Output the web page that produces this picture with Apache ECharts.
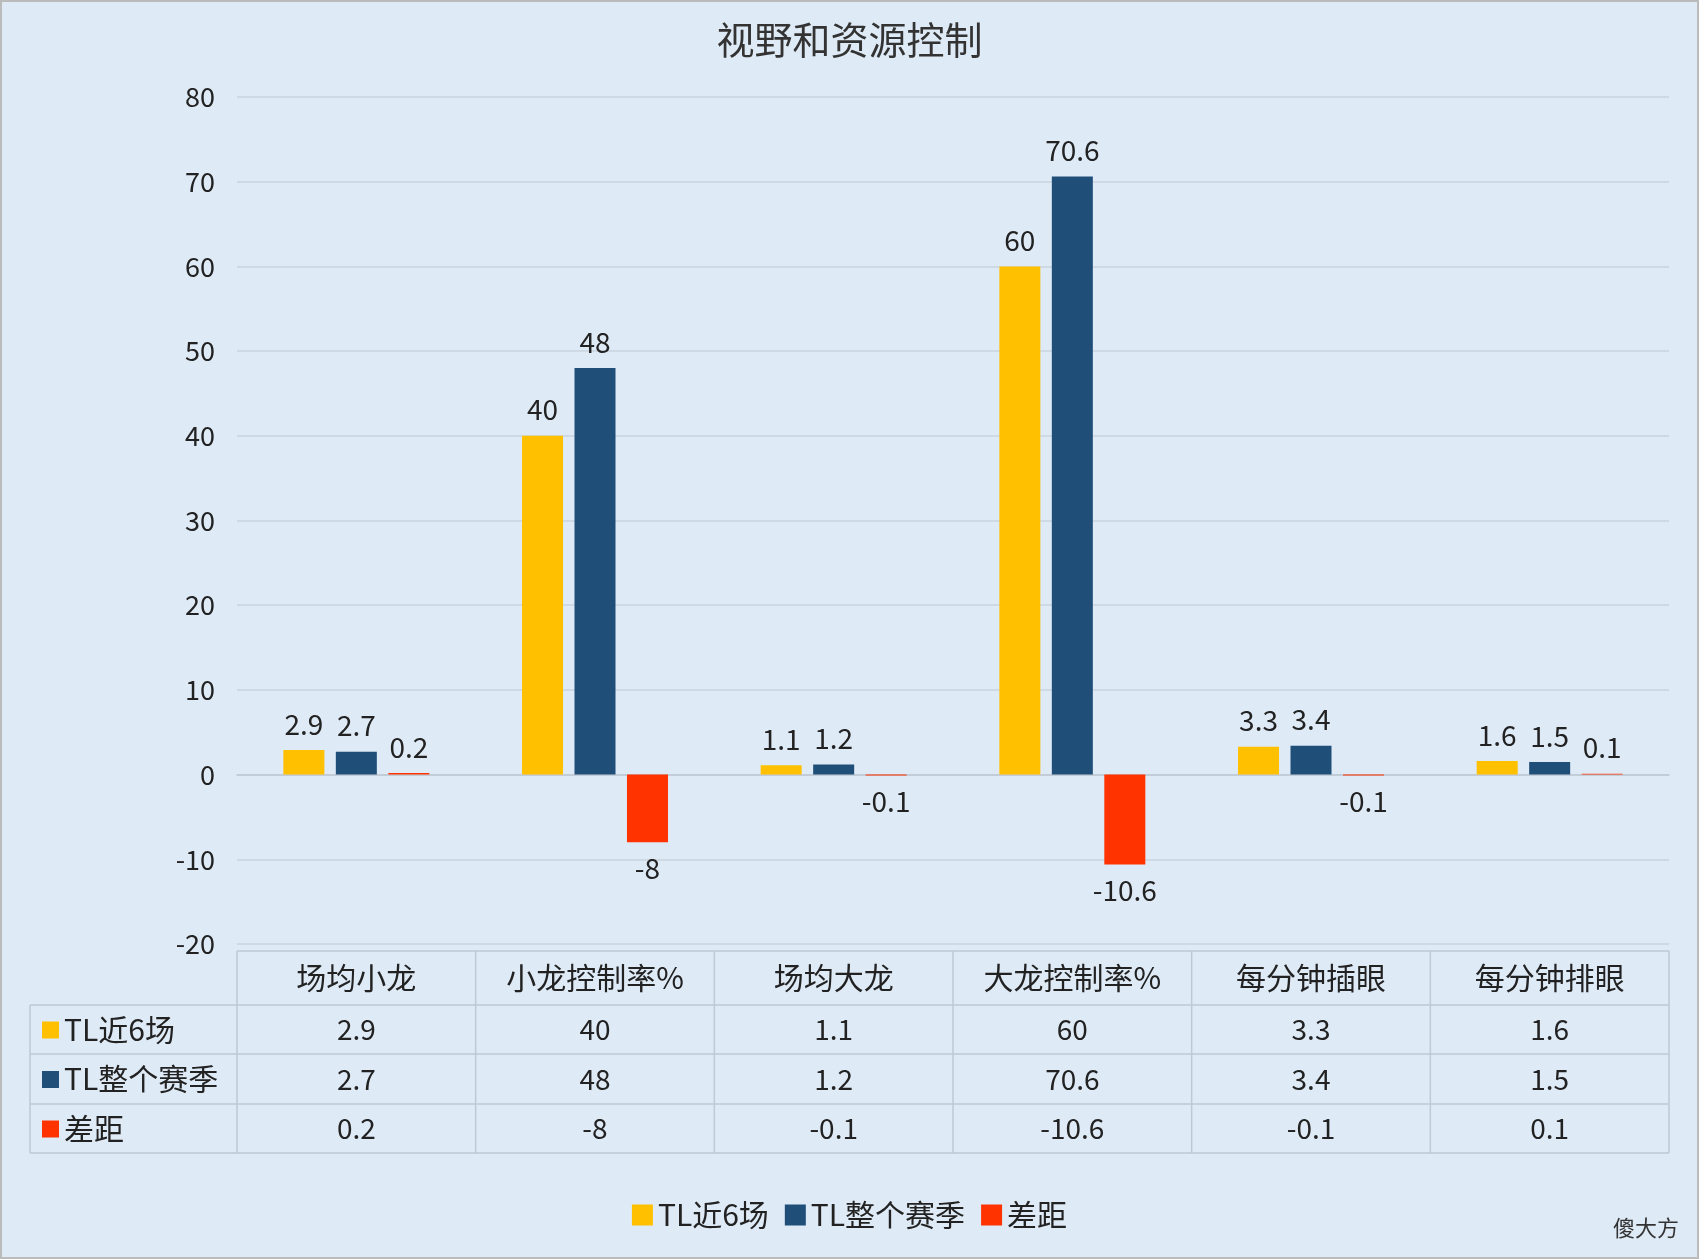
<!DOCTYPE html>
<html><head><meta charset="utf-8">
<script src="https://cdn.jsdelivr.net/npm/echarts@6/dist/echarts.min.js"></script>
<style>html,body{margin:0;padding:0;background:#DEEAF6}#c{width:1699px;height:1259px}</style>
</head><body><div id="c"></div>
<script>
const categories=['场均小龙','小龙控制率%','场均大龙','大龙控制率%','每分钟插眼','每分钟排眼'];
const seriesNames=['TL近6场','TL整个赛季','差距'];
const recent=[2.9,40,1.1,60,3.3,1.6];
const season=[2.7,48,1.2,70.6,3.4,1.5];
const diff=[0.2,-8,-0.1,-10.6,-0.1,0.1];
const colors=['#FFC000','#1F4E79','#FF3300'];
const yTicks={min:-20,max:80,interval:10};
const F='"Noto Sans CJK SC","Noto Sans",sans-serif';
const L=237,R=1669,T=97,B=944;
const rows=[951,1005,1054,1104,1153];
const tl=30;
const cw=(R-L)/categories.length;
const g=[];
const lc='#BFC9D3';
rows.forEach((y,i)=>g.push({type:'line',shape:{x1:i===0?L:tl,y1:y,x2:R,y2:y},style:{stroke:lc,lineWidth:1.5}}));
for(let i=0;i<=categories.length;i++)g.push({type:'line',shape:{x1:L+i*cw,y1:rows[0],x2:L+i*cw,y2:rows[4]},style:{stroke:lc,lineWidth:1.5}});
g.push({type:'line',shape:{x1:tl,y1:rows[1],x2:tl,y2:rows[4]},style:{stroke:lc,lineWidth:1.5}});
categories.forEach((c,i)=>g.push({type:'text',x:L+(i+0.5)*cw,y:(rows[0]+rows[1])/2,style:{text:c,font:'30px '+F,fill:'#222',align:'center',verticalAlign:'middle'}}));
const data=[recent,season,diff];
data.forEach((arr,r)=>{
 const y=(rows[r+1]+rows[r+2])/2;
 g.push({type:'rect',shape:{x:tl+12,y:y-8,width:17,height:17},style:{fill:colors[r]}});
 g.push({type:'text',x:tl+34,y:y,style:{text:seriesNames[r],font:'30px '+F,fill:'#222',verticalAlign:'middle'}});
 arr.forEach((v,i)=>g.push({type:'text',x:L+(i+0.5)*cw,y:y,style:{text:String(v),font:'28px '+F,fill:'#222',align:'center',verticalAlign:'middle'}}));
});
g.push({type:'text',right:20,bottom:20,style:{text:'傻大方',font:'22px '+F,fill:'#333'}});
g.push({type:'rect',shape:{x:1,y:1,width:1697,height:1257},style:{fill:'none',stroke:'#BBBBBB',lineWidth:2}});
const chart=echarts.init(document.getElementById('c'));
chart.setOption({
 backgroundColor:'#DEEAF6',
 title:{text:'视野和资源控制',left:'center',top:16,textStyle:{fontFamily:F,fontSize:38,fontWeight:'normal',color:'#333'}},
 legend:{data:seriesNames,bottom:24,left:'center',itemWidth:21,itemHeight:21,itemGap:16,icon:'rect',textStyle:{fontFamily:F,fontSize:30,color:'#222'}},
 grid:{left:L,right:1699-R,top:T,bottom:1259-B},
 xAxis:{type:'category',data:categories,axisLabel:{show:false},axisTick:{show:false},axisLine:{onZero:true,lineStyle:{color:'#BFC9D3',width:1.5}}},
 yAxis:{type:'value',...yTicks,axisLabel:{fontFamily:F,fontSize:27,color:'#222',margin:22},splitLine:{lineStyle:{color:'#C9D3DE',width:1.5}},axisLine:{show:false},axisTick:{show:false}},
 series:data.map((arr,i)=>({name:seriesNames[i],type:'bar',
  data:arr.map(v=>({value:v,label:{position:v<0?'bottom':'top'}})),
  barWidth:41,barGap:'28%',itemStyle:{color:colors[i]},
  label:{show:true,distance:12,fontFamily:F,fontSize:28,color:'#222',formatter:p=>String(p.value)}})),
 graphic:g
});
</script></body></html>
